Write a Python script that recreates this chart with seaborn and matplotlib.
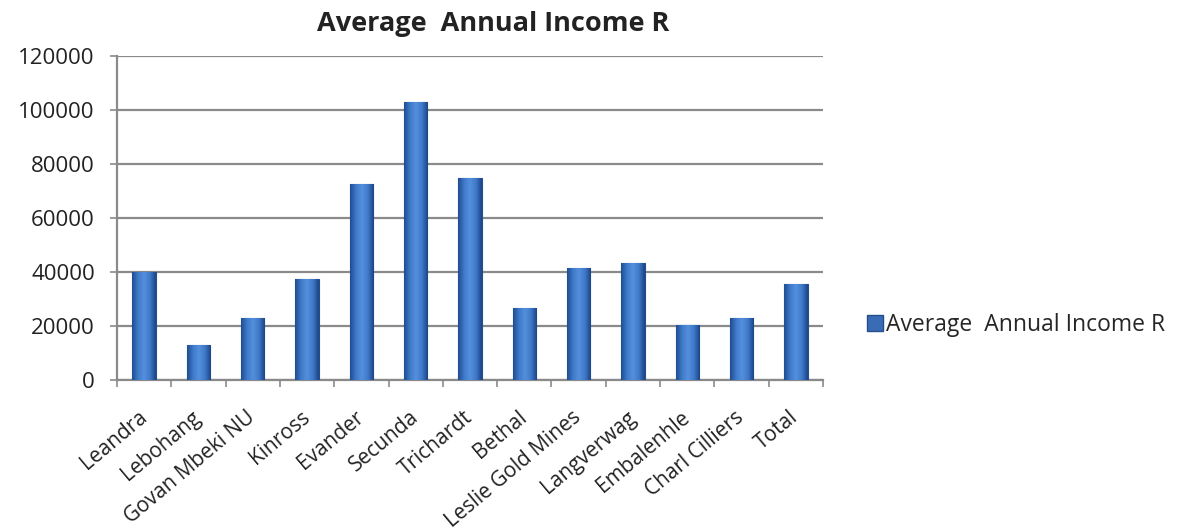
import matplotlib
matplotlib.use("Agg")
import matplotlib.pyplot as plt
import seaborn as sns
import pandas as pd
import numpy as np
from matplotlib.patches import Patch
from matplotlib.colors import LinearSegmentedColormap

categories = ["Leandra", "Lebohang", "Govan Mbeki NU", "Kinross", "Evander", "Secunda",
              "Trichardt", "Bethal", "Leslie Gold Mines", "Langverwag", "Embalenhle",
              "Charl Cilliers", "Total"]
income = [40100, 13000, 23000, 37300, 72600, 102800, 74700, 26500, 41400, 43300, 20400, 23000, 35700]
series_name = "Average  Annual Income R"
yticks = [0, 20000, 40000, 60000, 80000, 100000, 120000]

df = pd.DataFrame({"area": categories, "income": income})

sns.set_theme(style="white")
plt.rcParams["font.family"] = ["Open Sans", "DejaVu Sans"]

fig = plt.figure(figsize=(11.83, 5.32), dpi=100)
ax = fig.add_axes([117/1183, 1-380/532, (823-117)/1183, (380-56)/532])

bar_color = "#3a6cb5"
sns.barplot(data=df, x="area", y="income", color=bar_color, width=0.43,
            edgecolor="#244f8c", linewidth=0.8, ax=ax, zorder=3, saturation=1)

ax.set_ylim(0, 120000)
ax.set_xlim(-0.5, len(categories) - 0.5)

# gradient shading on each bar (clipped to the bar drawn by seaborn)
cmap = LinearSegmentedColormap.from_list("bar", ["#1f4c8f", "#3f7acb", "#5590dd", "#3f7acb", "#1c4585"])
grad = np.linspace(0, 1, 64).reshape(1, -1)
for p in list(ax.patches):
    x0, y0 = p.get_x(), p.get_y()
    w, h = p.get_width(), p.get_height()
    im = ax.imshow(grad, cmap=cmap, extent=[x0, x0 + w, y0, y0 + h],
                   aspect="auto", zorder=3.5, interpolation="bicubic")
    im.set_clip_path(p)
ax.set_xlim(-0.5, len(categories) - 0.5)
ax.set_ylim(0, 120000)

ax.set_yticks(yticks)
ax.set_yticklabels([str(v) for v in yticks], fontsize=16, color="#222222")
ax.yaxis.grid(True, color="#8a8a8a", linewidth=1.6, zorder=0)
ax.set_axisbelow(True)

ax.set_xticks(range(len(categories)))
ax.set_xticklabels(categories, rotation=40, ha="right", va="center", rotation_mode="anchor",
                   fontsize=15, color="#222222")
ax.tick_params(axis="x", length=0, pad=25)
ax.tick_params(axis="y", length=5, width=1.2, color="#8a8a8a", direction="out", left=True, pad=11)
ax.set_xticks([i - 0.5 for i in range(len(categories) + 1)], minor=True)
ax.tick_params(axis="x", which="minor", length=5, width=1.2, color="#8a8a8a", direction="out", bottom=True)

for side in ["top", "right"]:
    ax.spines[side].set_visible(False)
for side in ["left", "bottom"]:
    ax.spines[side].set_color("#8a8a8a")
    ax.spines[side].set_linewidth(1.6)

ax.set_xlabel("")
ax.set_ylabel("")

fig.text(493/1183, 1-24/532, series_name, ha="center", va="center",
         fontsize=19.5, fontweight="bold", color="#222222")

handle = Patch(facecolor=bar_color, edgecolor="#244f8c")
fig.legend([handle], [series_name], loc="center left",
           bbox_to_anchor=(867/1183, 1-325/532), frameon=False, fontsize=16.5,
           handlelength=0.7, handleheight=0.7, handletextpad=0.15, borderpad=0, borderaxespad=0)

fig.savefig("out.png", dpi=100)
